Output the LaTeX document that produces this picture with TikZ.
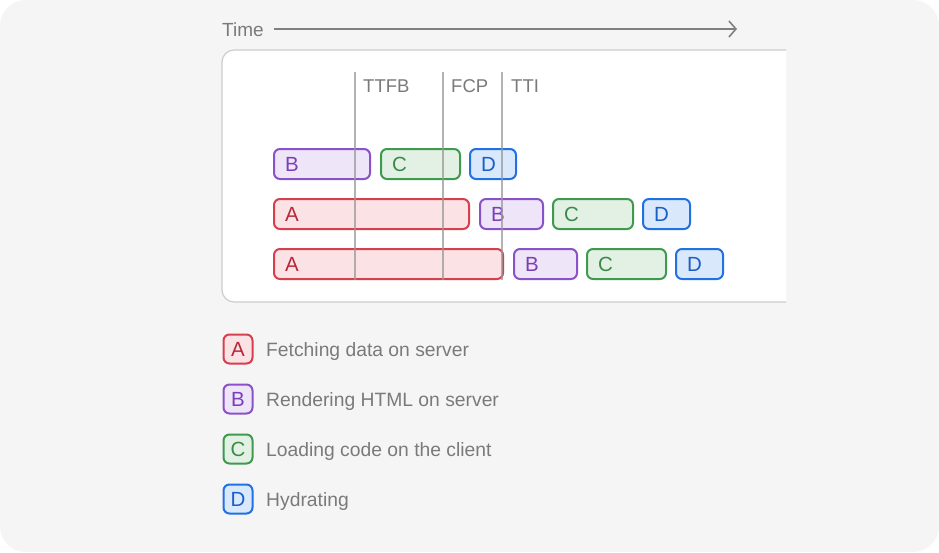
\documentclass[tikz,border=0pt]{standalone}
\usepackage{fontspec}
\setmainfont{Liberation Sans}
\usetikzlibrary{arrows.meta}
\definecolor{bgc}{HTML}{F5F5F5}
\definecolor{txt}{HTML}{7A7A7A}
\definecolor{rdB}{HTML}{D6404E}\definecolor{rdF}{HTML}{FBE3E5}\definecolor{rdT}{HTML}{B5283A}
\definecolor{puB}{HTML}{8A52C8}\definecolor{puF}{HTML}{EEE5F8}\definecolor{puT}{HTML}{7A3FB8}
\definecolor{grB}{HTML}{3F9A50}\definecolor{grF}{HTML}{E2F1E4}\definecolor{grT}{HTML}{3A8A4A}
\definecolor{blB}{HTML}{2171E2}\definecolor{blF}{HTML}{D9E8FB}\definecolor{blT}{HTML}{1A5FC8}
\tikzset{
  bar/.style={draw, line width=2pt, rounded corners=6pt, minimum height=30pt, anchor=west,
    inner xsep=11pt, inner ysep=0pt, align=left, font=\fontsize{20.5}{20.5}\selectfont},
  ra/.style={bar, draw=rdB, fill=rdF, text=rdT},
  pb/.style={bar, draw=puB, fill=puF, text=puT},
  gc/.style={bar, draw=grB, fill=grF, text=grT},
  bd/.style={bar, draw=blB, fill=blF, text=blT},
  w/.style={minimum width=#1pt-2pt, text width=#1pt-24pt},
  leg/.style={draw, line width=2pt, rounded corners=6pt, minimum width=29pt, minimum height=29pt,
    inner sep=0pt, font=\fontsize{20.5}{20.5}\selectfont},
  legtxt/.style={anchor=base west, inner sep=0pt, text=txt, font=\fontsize{19.3}{19.3}\selectfont},
  mark line/.style={draw=black!40, line width=1.2pt, opacity=0.75},
  marklab/.style={anchor=base west, inner sep=0pt, text=txt, font=\fontsize{18.5}{18.5}\selectfont},
}
\begin{document}
\begin{tikzpicture}[x=1pt,y=-1pt]
\useasboundingbox (0,0) rectangle (939,552);
\fill[white] (0,0) rectangle (939,552);
\fill[bgc, rounded corners=26pt] (0,0) rectangle (939,552);
% time arrow
\node[anchor=base west, inner sep=0pt, text=txt, font=\fontsize{19}{19}\selectfont] (time) at (222,36) {Time};
\coordinate (tend) at (737,29);
\draw[draw=black!50, line width=1.6pt, -{Straight Barb[length=7pt,width=16pt,line width=1.6pt]}] ([xshift=10pt]time.east |- tend) -- (tend);
% panel
\fill[white, rounded corners=12pt] (786,302) -- (222,302) -- (222,50) -- (786,50);
\draw[draw=black!20, line width=1.2pt, rounded corners=12pt] (786,302) -- (222,302) -- (222,50) -- (786,50);
% row 1
\node[pb, w=98] (b1) at (273,164) {B};
\node[gc, w=81] (c1) at (380,164) {C};
\node[bd, w=48] (d1) at (469,164) {D};
% row 2
\node[ra, w=197] (a2) at (273,214) {A};
\node[pb, w=65] (b2) at (479,214) {B};
\node[gc, w=82] (c2) at (552,214) {C};
\node[bd, w=49] (d2) at (642,214) {D};
% row 3
\node[ra, w=231] (a3) at (273,264) {A};
\node[pb, w=65] (b3) at (513,264) {B};
\node[gc, w=81] (c3) at (586,264) {C};
\node[bd, w=49] (d3) at (675,264) {D};
% markers
\coordinate (m1t) at (355,72); \coordinate (m1b) at (355,280);
\coordinate (m2t) at (443,72); \coordinate (m2b) at (443,280);
\coordinate (m3t) at (502,72); \coordinate (m3b) at (502,280);
\draw[mark line] (m1t) -- (m1b);
\draw[mark line] (m2t) -- (m2b);
\draw[mark line] (m3t) -- (m3b);
\node[marklab] (ttfb) at (363,92) {TTFB};
\node[marklab] (fcp) at (451,92) {FCP};
\node[marklab] (tti) at (511,92) {TTI};
% legend
\node[leg, draw=rdB, fill=rdF, text=rdT] (la) at (238,349) {A};
\node[leg, draw=puB, fill=puF, text=puT] (lb) at (238,399) {B};
\node[leg, draw=grB, fill=grF, text=grT] (lc) at (238,449) {C};
\node[leg, draw=blB, fill=blF, text=blT] (ld) at (238,499) {D};
\node[legtxt] (ta) at (266,356) {Fetching data on server};
\node[legtxt] (tb) at (266,406) {Rendering HTML on server};
\node[legtxt] (tc) at (266,456) {Loading code on the client};
\node[legtxt] (td) at (266,506) {Hydrating};
\end{tikzpicture}
\end{document}
